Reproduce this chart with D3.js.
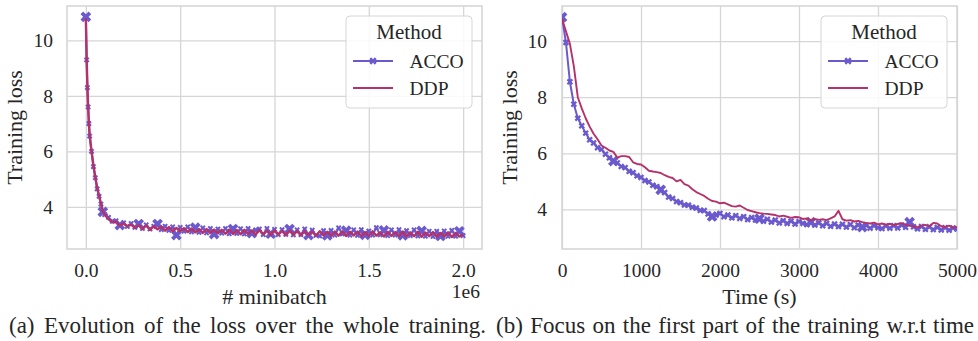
<!DOCTYPE html>
<html><head><meta charset="utf-8">
<script src="https://cdn.jsdelivr.net/npm/d3@7"></script>
<style>
body{margin:0;background:#fff}
svg{display:block}
text{font-family:"Liberation Serif","Times New Roman",Times,serif;fill:#262626}
</style>
</head><body>
<svg id="c" width="978" height="341"></svg>
<script>
// ---------- DATA ----------
const seriesNames = ["ACCO", "DDP"];

// Panel (a): x in thousands of minibatches
const minibatchK = [0,4,8,12,16,20,30,40,50,60,70,80,90,100,
 120,140,160,180,200,220,240,260,280,300,320,340,360,380,400,420,440,460,480,500,
 520,540,560,580,600,620,640,660,680,700,720,740,760,780,800,820,840,860,880,900,
 920,940,960,980,1000,1020,1040,1060,1080,1100,1120,1140,1160,1180,1200,1220,1240,1260,1280,1300,
 1320,1340,1360,1380,1400,1420,1440,1460,1480,1500,1520,1540,1560,1580,1600,1620,1640,1660,1680,1700,
 1720,1740,1760,1780,1800,1820,1840,1860,1880,1900,1920,1940,1960,1980,2000];

const accoLossA = [10.85,9.3,8.3,7.6,7.0,6.55,6.0,5.45,5.05,4.65,4.38,4.1,3.82,3.72,
 3.62,3.48,3.5,3.34,3.42,3.29,3.4,3.26,3.38,3.22,
 3.35,3.2,3.3,3.38,3.18,3.3,3.15,3.28,2.98,3.26,
 3.12,3.28,3.1,3.25,3.08,3.24,3.06,3.22,3.02,3.2,
 3.05,3.22,3.03,3.2,3.04,3.21,3.02,3.22,3.05,3.17,
 3.2,3.0,3.22,3.03,3.19,3.0,3.18,3.01,3.2,2.99,
 3.17,3.0,3.2,2.98,3.16,2.97,2.95,3.14,2.97,3.15,
 2.98,3.24,3.02,3.14,2.98,3.17,2.97,3.18,2.99,3.13,
 2.98,3.25,2.99,3.15,2.96,3.17,2.98,3.18,2.97,3.14,
 2.96,3.17,2.95,3.13,2.94,3.12,2.93,3.12,2.95,3.13,
 2.94,3.15,2.94,3.12,2.96];

const ddpLossA = [10.8,9.4,8.35,7.6,7.05,6.6,6.02,5.5,5.08,4.68,4.4,4.12,3.85,3.72,
 3.56,3.44,3.47,3.32,3.4,3.3,3.36,3.24,3.34,3.2,
 3.33,3.17,3.3,3.19,3.29,3.14,3.27,3.12,3.24,3.12,
 3.23,3.09,3.22,3.08,3.2,3.06,3.2,3.05,3.18,3.04,
 3.17,3.03,3.18,3.02,3.16,3.01,3.17,3.02,3.15,3.0,
 3.16,3.01,3.14,2.99,3.15,3.0,3.13,2.98,3.14,3.0,
 3.12,2.97,3.13,2.98,3.11,2.96,3.12,2.97,3.1,2.95,
 3.11,2.96,3.12,2.95,3.1,2.97,3.11,2.94,3.09,2.95,
 3.12,2.96,3.08,2.93,3.1,2.95,3.09,2.94,3.11,2.93,
 3.08,2.94,3.1,2.92,3.07,2.94,3.09,2.92,3.06,2.93,
 3.08,2.91,3.06,2.93,3.0];

// Panel (b): time in seconds (every 50 s)
const timeS = [0,50,100,150,200,250,300,350,400,450,500,550,600,650,700,750,800,850,900,950,
 1000,1050,1100,1150,1200,1250,1300,1350,1400,1450,1500,1550,1600,1650,1700,1750,1800,1850,1900,1950,
 2000,2050,2100,2150,2200,2250,2300,2350,2400,2450,2500,2550,2600,2650,2700,2750,2800,2850,2900,2950,
 3000,3050,3100,3150,3200,3250,3300,3350,3400,3450,3500,3550,3600,3650,3700,3750,3800,3850,3900,3950,
 4000,4050,4100,4150,4200,4250,4300,4350,4400,4450,4500,4550,4600,4650,4700,4750,4800,4850,4900,4950,5000];

const accoLossB = [10.85,9.95,8.55,7.75,7.25,6.98,6.72,6.48,6.37,6.2,6.14,5.97,5.84,5.72,5.66,5.53,5.49,5.36,5.31,5.2,
 5.14,5.03,4.98,4.86,4.81,4.7,4.6,4.44,4.39,4.28,4.24,4.16,4.15,4.08,4.05,3.97,3.96,3.84,3.75,3.8,
 3.86,3.74,3.8,3.7,3.78,3.68,3.74,3.64,3.71,3.62,3.67,3.58,3.65,3.55,3.62,3.52,3.6,3.5,3.58,3.48,
 3.57,3.5,3.46,3.55,3.44,3.52,3.42,3.5,3.4,3.48,3.39,3.47,3.37,3.46,3.35,3.44,3.37,3.43,3.33,3.42,
 3.35,3.32,3.41,3.33,3.42,3.34,3.44,3.36,3.55,3.38,3.31,3.39,3.29,3.38,3.28,3.36,3.27,3.35,3.26,3.34,3.3];

const ddpLossB = [10.8,10.35,9.9,9.1,8.0,7.6,7.25,6.95,6.7,6.5,6.28,6.2,6.1,6.05,5.85,5.9,5.9,5.87,5.68,5.62,
 5.6,5.5,5.38,5.35,5.33,5.3,5.22,5.16,5.12,5.0,5.05,4.9,4.85,4.72,4.62,4.55,4.48,4.38,4.3,4.28,
 4.22,4.24,4.18,4.12,4.1,4.14,4.06,3.98,3.94,3.9,3.87,3.85,3.84,3.82,3.8,3.75,3.78,3.74,3.7,3.73,
 3.72,3.66,3.68,3.62,3.66,3.63,3.65,3.62,3.68,3.75,3.95,3.65,3.6,3.62,3.57,3.59,3.55,3.52,3.5,3.53,
 3.47,3.5,3.46,3.49,3.44,3.48,3.51,3.45,3.42,3.4,3.36,3.42,3.45,3.4,3.52,3.5,3.4,3.37,3.42,3.35,3.38];

const yTickValues = [4, 6, 8, 10];
const xTicksA = [0, 0.5e6, 1.0e6, 1.5e6, 2.0e6];
const xTicksB = [0, 1000, 2000, 3000, 4000, 5000];
const captions = ["(a) Evolution of the loss over the whole training.",
                  "(b) Focus on the first part of the training w.r.t time"];

// ---------- STYLE ----------
const COLORS = {ACCO: "#6a5acd", DDP: "#b5316a"};
const GRID = "#d6d6d6";
const svg = d3.select("#c");
const xSym = d3.symbol().type(d3.symbolCross);

function drawPanel(p) {
  const x = d3.scaleLinear().domain(p.xDomain).range([p.left, p.right]);
  const y = d3.scaleLinear().domain(p.yDomain).range([p.bottom, p.top]);
  const g = svg.append("g");
  const w = p.right - p.left, h = p.bottom - p.top;

  const ya = g.append("g").attr("transform", `translate(${p.left},0)`)
    .call(d3.axisLeft(y).tickValues(yTickValues).tickSize(-w).tickPadding(p.yPad).tickFormat(d3.format("d")));
  const xa = g.append("g").attr("transform", `translate(0,${p.bottom})`)
    .call(d3.axisBottom(x).tickValues(p.xTicks).tickSize(-h).tickPadding(14).tickFormat(p.xFmt));
  [ya, xa].forEach(a => {
    a.select(".domain").remove();
    a.selectAll(".tick line").attr("stroke", GRID).attr("stroke-width", 1.3);
    a.selectAll(".tick text").attr("font-size", 19.5).attr("fill", "#262626")
      .style("font-family", '"Liberation Serif","Times New Roman",serif');
  });
  g.append("rect").attr("x", p.left).attr("y", p.top).attr("width", w).attr("height", h)
    .attr("fill", "none").attr("stroke", GRID).attr("stroke-width", 1.6);

  const clipId = "clip" + p.id;
  svg.append("clipPath").attr("id", clipId).append("rect")
    .attr("x", p.left).attr("y", p.top).attr("width", w).attr("height", h);
  const plot = g.append("g").attr("clip-path", `url(#${clipId})`);

  const line = d3.line().x(d => x(d[0])).y(d => y(d[1]));
  const acco = p.xs.map((v, i) => [v, p.acco[i]]).filter(d => d[1] !== undefined);
  const ddp = p.xs.map((v, i) => [v, p.ddp[i]]).filter(d => d[1] !== undefined);

  plot.append("path").datum(acco).attr("d", line).attr("fill", "none")
    .attr("stroke", COLORS.ACCO).attr("stroke-width", 2).attr("stroke-linejoin", "round");
  plot.selectAll(".sm").data(acco).join("path")
    .attr("d", xSym.size(p.smallSize)())
    .attr("transform", d => `translate(${x(d[0])},${y(d[1])}) rotate(45)`)
    .attr("fill", COLORS.ACCO);
  plot.selectAll(".bm").data(p.bigIdx.map(i => acco[i]).filter(Boolean)).join("path")
    .attr("d", xSym.size(72)())
    .attr("transform", d => `translate(${x(d[0])},${y(d[1])}) rotate(45)`)
    .attr("fill", COLORS.ACCO);

  plot.append("path").datum(ddp).attr("d", line).attr("fill", "none")
    .attr("stroke", COLORS.DDP).attr("stroke-width", p.ddpWidth).attr("stroke-linejoin", "round");

  g.append("text").attr("x", (p.left + p.right) / 2).attr("y", 304).attr("text-anchor", "middle")
    .attr("font-size", 22).text(p.xLabel);
  g.append("text").attr("transform", `translate(${p.yLabelX},${(p.top + p.bottom) / 2}) rotate(-90)`)
    .attr("text-anchor", "middle").attr("font-size", 22).text("Training loss");
  if (p.offset) {
    g.append("text").attr("x", p.right - 2).attr("y", 297.5).attr("text-anchor", "end")
      .attr("font-size", 19.5).text(p.offset);
  }

  const L = g.append("g").attr("transform", `translate(${p.legX},16)`);
  L.append("rect").attr("x", 0).attr("y", 0).attr("width", 126).attr("height", 92).attr("rx", 4)
    .attr("fill", "#fff").attr("fill-opacity", 0.85).attr("stroke", "#d6d6d6").attr("stroke-width", 1);
  L.append("text").attr("x", 63).attr("y", 23).attr("text-anchor", "middle").attr("font-size", 21).text("Method");
  seriesNames.forEach((s, i) => {
    const yy = 45 + i * 27;
    L.append("line").attr("x1", 7).attr("x2", 47).attr("y1", yy).attr("y2", yy)
      .attr("stroke", COLORS[s]).attr("stroke-width", 1.8);
    if (s === "ACCO") {
      L.append("path").attr("d", xSym.size(34)()).attr("transform", `translate(27,${yy}) rotate(45)`)
        .attr("fill", COLORS[s]);
    }
    L.append("text").attr("x", 63.5).attr("y", yy + 7).attr("font-size", 19.5).text(s);
  });

  const cap = svg.append("text").attr("x", p.capX).attr("y", 333).attr("font-size", 23).text(p.caption);
  const natural = cap.node().getComputedTextLength();
  const spaces = (p.caption.match(/ /g) || []).length;
  const extra = (p.capW - natural) / spaces;
  cap.attr("word-spacing", Math.max(-2, Math.min(6, extra)));
  if (cap.node().getComputedTextLength() > p.capW + 2) {
    cap.attr("textLength", p.capW).attr("lengthAdjust", "spacingAndGlyphs");
  }
}

drawPanel({
  id: "a", left: 67, right: 482, top: 6, bottom: 249,
  xDomain: [-0.1e6, 2.1e6], yDomain: [2.48, 11.24], xTicks: xTicksA,
  xFmt: d => (d / 1e6).toFixed(1), yPad: 14,
  xs: minibatchK.map(k => k * 1000), acco: accoLossA, ddp: ddpLossA,
  bigIdx: [0].concat(d3.range(12, minibatchK.length, 5)), smallSize: 20,
  ddpWidth: 2.4, xLabel: "# minibatch", yLabelX: 22, offset: "1e6",
  legX: 346, caption: captions[0], capX: 9, capW: 477
});

drawPanel({
  id: "b", left: 562, right: 957, top: 6, bottom: 249,
  xDomain: [0, 5000], yDomain: [2.59, 11.25], xTicks: xTicksB,
  xFmt: d3.format("d"), yPad: 15,
  xs: timeS, acco: accoLossB, ddp: ddpLossB,
  bigIdx: d3.range(0, 8).map(k => Math.round(k * 12.6)), smallSize: 26,
  ddpWidth: 1.9, xLabel: "Time (s)", yLabelX: 517, offset: null,
  legX: 821, caption: captions[1], capX: 496, capW: 478
});
</script>
</body></html>
